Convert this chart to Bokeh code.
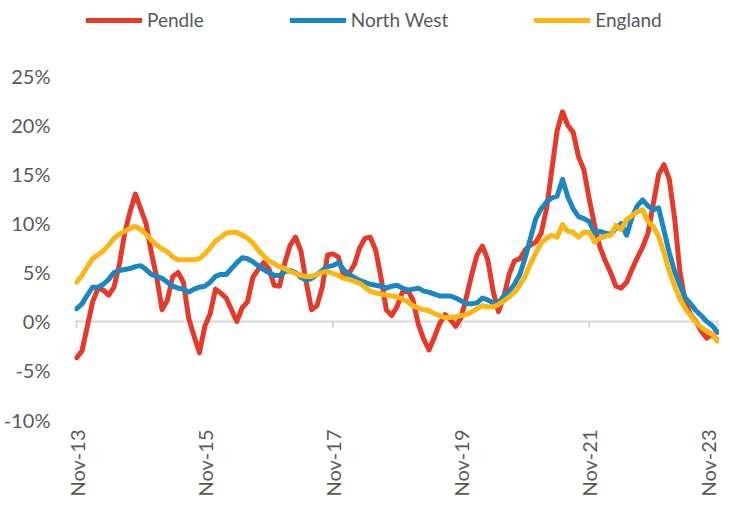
import math
from bokeh.plotting import figure
from bokeh.models import Range1d, FixedTicker, PrintfTickFormatter, Span, Legend, LegendItem
from bokeh.embed import file_html
from bokeh.resources import INLINE

# ---- data (monthly, Nov-13 .. Nov-23) ----
months = list(range(121))
tick_months = [0, 24, 48, 72, 96, 120]
tick_labels = ["Nov-13", "Nov-15", "Nov-17", "Nov-19", "Nov-21", "Nov-23"]
y_ticks = [-10, -5, 0, 5, 10, 15, 20, 25]

pendle = [-3.7, -3.0, -0.5, 2.0, 3.4, 3.2, 2.7, 3.5, 5.8, 9.0,
          11.2, 13.0, 11.5, 10.0, 7.0, 4.5, 1.2, 2.2, 4.6, 5.0,
          4.0, 0.3, -1.5, -3.2, -0.5, 0.8, 3.3, 2.9, 2.4, 1.2,
          0.0, 1.4, 2.0, 4.5, 5.3, 6.0, 5.4, 3.7, 3.6, 6.0,
          7.8, 8.6, 7.2, 4.0, 1.2, 1.6, 3.5, 6.8, 6.9, 6.6,
          4.7, 4.9, 5.8, 7.5, 8.5, 8.6, 7.3, 4.5, 1.2, 0.6,
          1.5, 3.0, 3.2, 2.2, -0.3, -1.8, -2.9, -1.6, -0.2, 0.7,
          0.2, -0.5, 0.4, 2.5, 4.8, 6.8, 7.7, 6.3, 3.1, 1.0,
          2.5, 4.8, 6.2, 6.4, 7.3, 7.8, 8.1, 9.0, 11.5, 15.5,
          19.5, 21.4, 20.0, 19.3, 16.8, 15.5, 12.5, 9.8, 7.6, 6.2,
          5.0, 3.6, 3.4, 4.0, 5.3, 6.5, 7.6, 9.0, 12.0, 15.0,
          16.0, 14.5, 10.5, 5.0, 2.0, 0.7, 0.0, -1.0, -1.7, -1.3, -1.9]

north_west = [1.3, 1.8, 2.7, 3.5, 3.5, 3.8, 4.3, 5.0, 5.2, 5.3,
              5.4, 5.6, 5.7, 5.3, 4.8, 4.6, 4.4, 4.0, 3.6, 3.4,
              3.3, 3.0, 3.3, 3.5, 3.6, 4.0, 4.6, 4.8, 4.8, 5.4,
              6.0, 6.5, 6.4, 6.1, 5.7, 5.3, 5.0, 4.7, 4.7, 5.1,
              5.2, 5.0, 4.5, 4.2, 4.4, 4.8, 5.2, 5.6, 5.7, 6.0,
              5.3, 4.8, 4.5, 4.2, 4.0, 3.8, 3.7, 3.6, 3.4, 3.6,
              3.7, 3.4, 3.2, 3.3, 3.4, 3.1, 3.0, 2.8, 2.6, 2.6,
              2.6, 2.4, 2.1, 1.8, 1.8, 1.9, 2.4, 2.2, 1.9, 1.9,
              2.6, 3.1, 3.8, 4.8, 6.5, 8.5, 10.5, 11.5, 12.2, 12.6,
              12.8, 14.5, 12.7, 11.5, 10.7, 10.5, 10.2, 9.0, 9.2, 9.0,
              8.9, 9.5, 10.0, 8.8, 10.6, 11.8, 12.4, 11.8, 11.4, 11.6,
              9.3, 7.0, 5.1, 3.7, 2.4, 1.8, 1.1, 0.6, 0.0, -0.4, -1.1]

england = [4.0, 4.7, 5.6, 6.4, 6.8, 7.2, 7.8, 8.5, 8.9, 9.2,
           9.5, 9.7, 9.4, 8.9, 8.3, 7.8, 7.4, 7.1, 6.6, 6.3,
           6.3, 6.3, 6.3, 6.4, 6.9, 7.5, 8.2, 8.6, 9.0, 9.1,
           9.1, 8.8, 8.5, 8.0, 7.3, 6.7, 6.2, 5.9, 5.6, 5.4,
           5.1, 4.9, 4.7, 4.6, 4.6, 4.8, 5.0, 5.1, 4.9, 4.7,
           4.4, 4.3, 4.1, 3.9, 3.5, 3.1, 2.9, 2.8, 2.7, 2.6,
           2.5, 2.3, 2.0, 1.6, 1.4, 1.2, 1.1, 0.8, 0.6, 0.4,
           0.4, 0.5, 0.6, 0.7, 1.0, 1.3, 1.6, 1.5, 1.5, 1.7,
           2.1, 2.5, 3.0, 3.7, 4.6, 5.9, 7.0, 8.0, 8.5, 8.8,
           8.6, 9.9, 9.2, 9.1, 8.6, 9.1, 9.1, 8.1, 8.5, 8.7,
           8.8, 9.8, 9.4, 10.4, 10.8, 11.2, 11.4, 10.2, 9.7, 8.7,
           7.0, 5.1, 3.6, 2.3, 1.3, 0.6, -0.1, -0.6, -1.0, -1.3, -2.0]

RED = "#E5392A"
BLUE = "#1B87C2"
YELLOW = "#FCB614"
TEXT = "#595959"
AXIS = "#D9D9D9"

# y range extends above the top tick so the legend fits inside the frame
p = figure(frame_width=645, frame_height=419, output_backend="svg",
           toolbar_location=None,
           x_range=Range1d(-0.4, 120.4), y_range=Range1d(-10, 32.755),
           min_border_left=72, min_border_right=0, min_border_top=0,
           min_border_bottom=72)
p.outline_line_color = None
p.grid.visible = False
p.background_fill_color = "white"
p.border_fill_color = "white"

# y axis
p.yaxis.ticker = FixedTicker(ticks=y_ticks)
p.yaxis.formatter = PrintfTickFormatter(format="%d%%")
p.yaxis.axis_line_color = None
p.yaxis.major_tick_line_color = None
p.yaxis.major_tick_out = 0
p.yaxis.major_tick_in = 0
p.yaxis.minor_tick_line_color = None
p.yaxis.major_label_standoff = 24
p.yaxis.major_label_text_font = "Lato"
p.yaxis.major_label_text_font_size = "20px"
p.yaxis.major_label_text_color = TEXT

# x axis (labels only, at bottom)
p.xaxis.ticker = FixedTicker(ticks=tick_months)
p.xaxis.major_label_overrides = dict(zip(tick_months, tick_labels))
p.xaxis.major_label_orientation = math.pi / 2
p.xaxis.axis_line_color = None
p.xaxis.major_tick_line_color = None
p.xaxis.major_tick_out = 0
p.xaxis.major_tick_in = 0
p.xaxis.minor_tick_line_color = None
p.xaxis.major_label_standoff = 10
p.xaxis.major_label_text_font = "Lato"
p.xaxis.major_label_text_font_size = "20px"
p.xaxis.major_label_text_color = TEXT

# zero line acting as category axis, with tick marks
p.add_layout(Span(location=0, dimension="width", line_color=AXIS,
                  line_width=2, level="underlay"))
p.segment(x0=tick_months, y0=[0] * len(tick_months), x1=tick_months,
          y1=[-0.7] * len(tick_months), line_color=AXIS, line_width=2)

r1 = p.line(months, pendle, line_color=RED, line_width=5,
            line_join="round", line_cap="round")
r2 = p.line(months, north_west, line_color=BLUE, line_width=5,
            line_join="round", line_cap="round")
r3 = p.line(months, england, line_color=YELLOW, line_width=5,
            line_join="round", line_cap="round")

legend = Legend(items=[LegendItem(label="Pendle", renderers=[r1]),
                       LegendItem(label="North West", renderers=[r2]),
                       LegendItem(label="England", renderers=[r3])],
                orientation="horizontal", location=(12, 388),
                padding=0, margin=0, spacing=86,
                glyph_width=56, glyph_height=22, label_height=22,
                label_standoff=5, border_line_color=None,
                background_fill_alpha=0,
                label_text_font="Lato",
                label_text_font_size="19px", label_text_color=TEXT)
p.add_layout(legend)

open("out.html", "w").write(file_html(p, INLINE))
